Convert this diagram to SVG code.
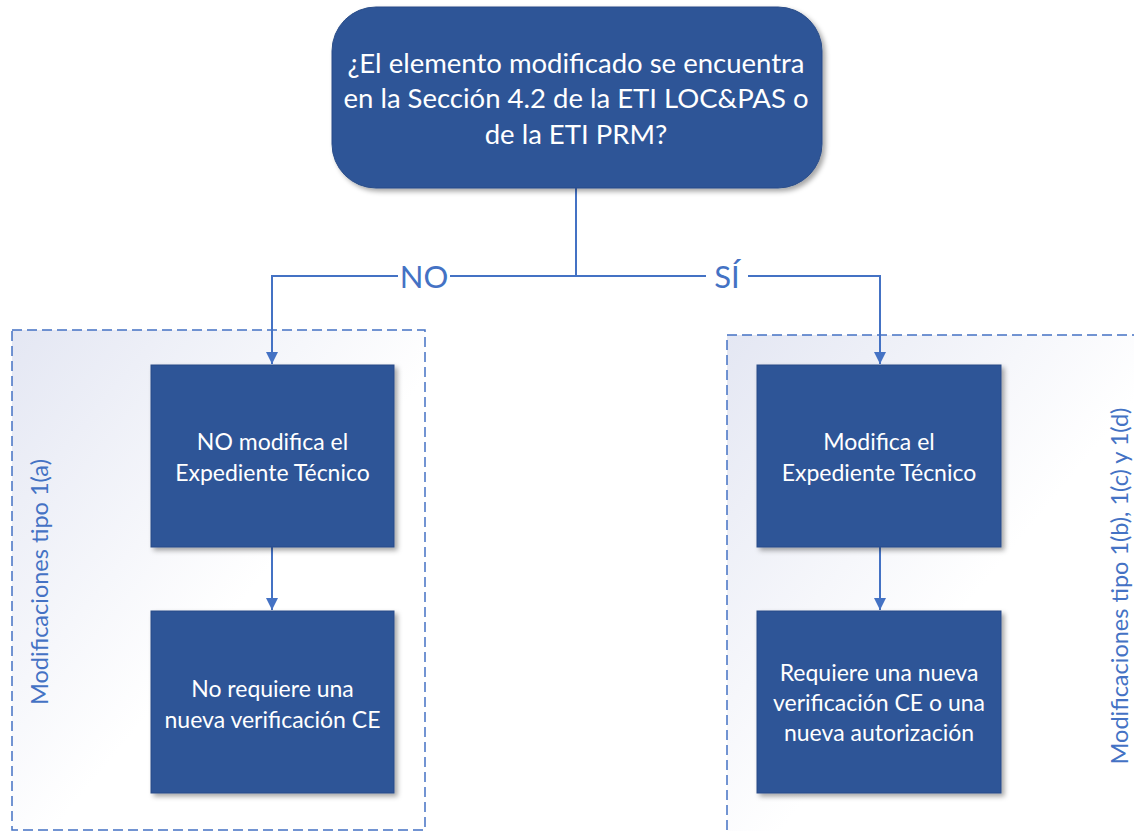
<svg xmlns="http://www.w3.org/2000/svg" width="1134" height="831" viewBox="0 0 1134 831">
  <defs>
    <linearGradient id="groupFill" x1="0" y1="0" x2="1" y2="1">
      <stop offset="0" stop-color="#E4E7F3"/>
      <stop offset="0.55" stop-color="#FFFFFF"/>
      <stop offset="1" stop-color="#FFFFFF"/>
    </linearGradient>
    <filter id="shadow" x="-10%" y="-10%" width="125%" height="125%">
      <feDropShadow dx="3" dy="3" stdDeviation="2.5" flood-color="#000" flood-opacity="0.35"/>
    </filter>
    <marker id="arrow" viewBox="0 0 10 10" refX="10" refY="5" markerWidth="14" markerHeight="12" markerUnits="userSpaceOnUse" orient="auto">
      <path d="M0,0 L10,5 L0,10 z" fill="#4472C4"/>
    </marker>
    <style>
      .group { fill: url(#groupFill); stroke: #4472C4; stroke-width: 1.5; stroke-dasharray: 10 5; }
      .box { fill: #2F5597; stroke: #2A4D88; stroke-width: 1; filter: url(#shadow); }
      .boxText { font-family: Lato, "Liberation Sans", sans-serif; font-size: 23px; fill: #FFFFFF; text-anchor: middle; }
      .qText { font-family: Lato, "Liberation Sans", sans-serif; font-size: 27.5px; fill: #FFFFFF; text-anchor: middle; }
      .edge { fill: none; stroke: #4472C4; stroke-width: 2; }
      .edgeLabel { font-family: Lato, "Liberation Sans", sans-serif; font-size: 31px; fill: #4472C4; text-anchor: middle; }
      .groupLabel { font-family: Lato, "Liberation Sans", sans-serif; font-size: 23.5px; fill: #4472C4; text-anchor: middle; }
    </style>
  </defs>

  <rect width="1134" height="831" fill="#FFFFFF"/>

  <!-- dashed groupings -->
  <g id="group-1a">
    <rect class="group" x="12" y="330" width="413" height="500"/>
    <text class="groupLabel" transform="translate(48,582) rotate(-90)">Modificaciones tipo 1(a)</text>
  </g>
  <g id="group-1bcd">
    <rect class="group" x="727" y="335" width="420" height="510"/>
    <text class="groupLabel" transform="translate(1128,586) rotate(-90)">Modificaciones tipo 1(b), 1(c) y 1(d)</text>
  </g>

  <!-- connectors -->
  <g id="connectors">
    <path class="edge" d="M576,188 V276"/>
    <path class="edge" d="M576,276 H272 V364" marker-end="url(#arrow)"/>
    <path class="edge" d="M576,276 H880 V364" marker-end="url(#arrow)"/>
    <path class="edge" d="M272,547 V610" marker-end="url(#arrow)"/>
    <path class="edge" d="M880,547 V610" marker-end="url(#arrow)"/>
    <rect x="398" y="262" width="52" height="30" fill="#FFFFFF"/>
    <text class="edgeLabel" x="424" y="288">NO</text>
    <rect x="706" y="262" width="42" height="30" fill="#FFFFFF"/>
    <text class="edgeLabel" x="727" y="288">SÍ</text>
  </g>

  <!-- decision -->
  <g id="question">
    <rect class="box" x="332" y="7" width="490" height="181" rx="44" ry="44"/>
    <text class="qText" x="576" y="73">¿El elemento modificado se encuentra</text>
    <text class="qText" x="576" y="108">en la Sección 4.2 de la ETI LOC&amp;PAS o</text>
    <text class="qText" x="576" y="144">de la ETI PRM?</text>
  </g>

  <!-- NO branch -->
  <g id="no-modifica">
    <rect class="box" x="151" y="365" width="243" height="182"/>
    <text class="boxText" x="272.5" y="450">NO modifica el</text>
    <text class="boxText" x="272.5" y="481">Expediente Técnico</text>
  </g>
  <g id="no-requiere">
    <rect class="box" x="151" y="611" width="243" height="182"/>
    <text class="boxText" x="272.5" y="697">No requiere una</text>
    <text class="boxText" x="272.5" y="728">nueva verificación CE</text>
  </g>

  <!-- SÍ branch -->
  <g id="modifica">
    <rect class="box" x="757" y="365" width="244" height="182"/>
    <text class="boxText" x="879" y="450">Modifica el</text>
    <text class="boxText" x="879" y="481">Expediente Técnico</text>
  </g>
  <g id="requiere">
    <rect class="box" x="757" y="611" width="244" height="182"/>
    <text class="boxText" x="879" y="681">Requiere una nueva</text>
    <text class="boxText" x="879" y="711">verificación CE o una</text>
    <text class="boxText" x="879" y="741">nueva autorización</text>
  </g>
</svg>
